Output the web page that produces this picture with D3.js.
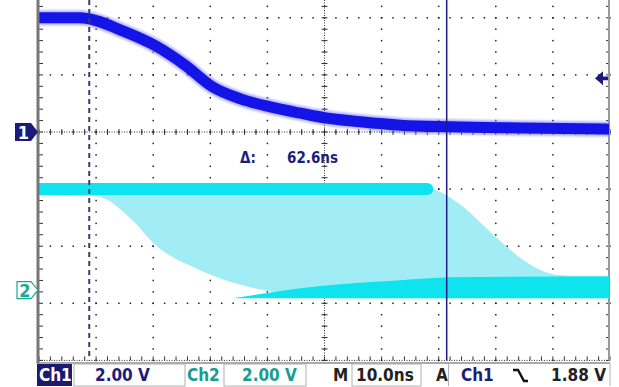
<!DOCTYPE html>
<html>
<head>
<meta charset="utf-8">
<script src="https://cdn.jsdelivr.net/npm/d3@7"></script>
<style>
  html, body { margin: 0; padding: 0; background: #fff; }
  svg { display: block; }
  text { font-family: "DejaVu Sans Condensed", "DejaVu Sans", sans-serif; font-weight: bold; }
</style>
</head>
<body>
<div id="app"></div>
<script>
// ---------- Data ----------

// Ch1 (blue) falling edge, time in ns, value in volts
const ch1Time = [0, 7.2, 10, 14.2, 20.4, 25.6, 30.4, 35.3, 40.5, 45.8, 50, 56.3, 63.3, 72.1, 84.4, 100];
const ch1Volts = [4.0, 4.0, 3.9, 3.58, 3.02, 2.34, 1.58, 1.16, 0.88, 0.66, 0.5, 0.36, 0.24, 0.18, 0.14, 0.1];

// Ch2 (cyan) persistence: high level band, earliest edge and latest edge envelopes
const ch2HighTime = [0, 68];
const ch2HighVolts = [3.54, 3.54];

const ch2EarlyTime = [0, 10, 16, 20.4, 28.2, 37, 45.8, 52, 100];
const ch2EarlyVolts = [3.33, 3.29, 2.52, 1.58, 0.7, 0.1, -0.18, -0.28, -0.28];

const ch2LateTime = [0, 64, 68, 70.4, 73.9, 79.1, 84.4, 87.9, 91.4, 100];
const ch2LateVolts = [3.75, 3.74, 3.62, 3.43, 2.98, 2.03, 1.12, 0.7, 0.52, 0.45];

const ch2LowTopTime = [34, 40, 45.8, 52.8, 63.3, 72.1, 100];
const ch2LowTopVolts = [-0.28, -0.1, 0.07, 0.21, 0.35, 0.45, 0.49];
const ch2LowBottomVolts = -0.28;

// readouts
const ch1Scale = "2.00 V";
const ch2Scale = "2.00 V";
const timeScale = "10.0ns";
const trigSource = "Ch1";
const trigLevel = 1.88;
const cursorA = 8.8;   // ns
const cursorB = 71.4;  // ns
const deltaLabel = "62.6ns";

// ---------- Layout ----------

const W = 619, H = 387;
const LEFT = 39, RIGHT = 610;
const CENTER_Y = 132, DIV = 57.1;
const VOLTS_PER_DIV = 2;
const CH1_POS = 0, CH2_POS = -2.77;

const svg = d3.select("#app").append("svg")
  .attr("width", W).attr("height", H);

const x = d3.scaleLinear().domain([0, 100]).range([LEFT, RIGHT]);
const yDiv = d3.scaleLinear().domain([0, 1]).range([CENTER_Y, CENTER_Y - DIV]);
const BOTTOM = yDiv(-4);

const y1 = v => yDiv(CH1_POS + v / VOLTS_PER_DIV);
const y2 = v => yDiv(CH2_POS + v / VOLTS_PER_DIV);

const zip = (ts, vs) => ts.map((t, i) => [t, vs[i]]);

// ---------- Graticule ----------

const grid = svg.append("g").attr("fill", "#222");
const minor = d3.range(-40, 41).map(d => d / 5);   // minor steps in divisions
const xMinor = d3.range(0, 51).map(d => d / 5);

// vertical grid lines (dotted)
for (let k = 1; k < 10; k++) {
  const gx = LEFT + k * (RIGHT - LEFT) / 10;
  minor.forEach(m => {
    const gy = yDiv(m);
    if (gy < 0 || gy > BOTTOM) return;
    grid.append("rect").attr("x", gx - 0.75).attr("y", gy - 0.75).attr("width", 1.5).attr("height", 1.5);
  });
}
// horizontal grid lines (dotted)
for (let j = -3; j <= 3; j++) {
  const gy = yDiv(j);
  if (gy < 0) continue;
  xMinor.forEach(m => {
    const gx = LEFT + m * (RIGHT - LEFT) / 10;
    grid.append("rect").attr("x", gx - 0.75).attr("y", gy - 0.75).attr("width", 1.5).attr("height", 1.5);
  });
}

// center lines with minor ticks
const cx = LEFT + 5 * (RIGHT - LEFT) / 10;
svg.append("line").attr("x1", LEFT).attr("x2", RIGHT).attr("y1", CENTER_Y).attr("y2", CENTER_Y)
  .attr("stroke", "#333").attr("stroke-width", 1).attr("stroke-dasharray", "1 1.5");
svg.append("line").attr("x1", cx).attr("x2", cx).attr("y1", 0).attr("y2", BOTTOM)
  .attr("stroke", "#333").attr("stroke-width", 1).attr("stroke-dasharray", "1 1.5");
xMinor.forEach(m => {
  const gx = LEFT + m * (RIGHT - LEFT) / 10;
  svg.append("line").attr("x1", gx).attr("x2", gx).attr("y1", CENTER_Y - 3).attr("y2", CENTER_Y + 3)
    .attr("stroke", "#333").attr("stroke-width", 1);
  svg.append("line").attr("x1", gx).attr("x2", gx).attr("y1", BOTTOM - 4).attr("y2", BOTTOM)
    .attr("stroke", "#333").attr("stroke-width", 1);
});
minor.forEach(m => {
  const gy = yDiv(m);
  if (gy < 0 || gy > BOTTOM) return;
  svg.append("line").attr("x1", cx - 3).attr("x2", cx + 3).attr("y1", gy).attr("y2", gy)
    .attr("stroke", "#333").attr("stroke-width", 1);
  svg.append("line").attr("x1", LEFT).attr("x2", LEFT + 4).attr("y1", gy).attr("y2", gy)
    .attr("stroke", "#333").attr("stroke-width", 1);
  svg.append("line").attr("x1", RIGHT - 4).attr("x2", RIGHT).attr("y1", gy).attr("y2", gy)
    .attr("stroke", "#333").attr("stroke-width", 1);
});

// frame edges
svg.append("line").attr("x1", LEFT).attr("x2", RIGHT).attr("y1", BOTTOM).attr("y2", BOTTOM)
  .attr("stroke", "#333").attr("stroke-width", 1).attr("stroke-dasharray", "1 1.5");
svg.append("line").attr("x1", RIGHT - 1).attr("x2", RIGHT - 1).attr("y1", 0).attr("y2", BOTTOM)
  .attr("stroke", "#999").attr("stroke-width", 2);
svg.append("line").attr("x1", 37).attr("x2", RIGHT).attr("y1", BOTTOM + 2.5).attr("y2", BOTTOM + 2.5)
  .attr("stroke", "#aaa").attr("stroke-width", 2);

// ---------- Traces ----------

const defs = svg.append("defs");
defs.append("filter").attr("id", "soft").append("feGaussianBlur").attr("stdDeviation", 1.2);
defs.append("clipPath").attr("id", "plot").append("rect")
  .attr("x", LEFT).attr("y", 0).attr("width", RIGHT - LEFT - 1).attr("height", BOTTOM);

const traces = svg.append("g").attr("clip-path", "url(#plot)");

const line1 = d3.line().x(d => x(d[0])).y(d => y1(d[1])).curve(d3.curveMonotoneX);
const line2 = d3.line().x(d => x(d[0])).y(d => y2(d[1])).curve(d3.curveMonotoneX);
const poly2 = d3.line().x(d => x(d[0])).y(d => y2(d[1])).curve(d3.curveLinear);

// Ch2 persistence fill between latest and earliest edges
const lateSmooth = line2(zip(ch2LateTime, ch2LateVolts));
const earlyPts = zip(ch2EarlyTime, ch2EarlyVolts).reverse();
const fillPath = lateSmooth + "L" + line2(earlyPts).slice(1) + "Z";
traces.append("path").attr("d", fillPath).attr("fill", "#a2edf5");

// low band
const lowTop = zip(ch2LowTopTime, ch2LowTopVolts);
const lowBottom = ch2LowTopTime.map(t => [t, ch2LowBottomVolts]).reverse();
traces.append("path").attr("d", line2(lowTop) + "L" + poly2(lowBottom).slice(1) + "Z")
  .attr("fill", "#0ee3ee");

// high band
traces.append("path").attr("d", line2(zip(ch2HighTime, ch2HighVolts)))
  .attr("fill", "none").attr("stroke", "#8ff0f6").attr("stroke-width", 15).attr("filter", "url(#soft)");
traces.append("path").attr("d", line2(zip(ch2HighTime, ch2HighVolts)))
  .attr("fill", "none").attr("stroke", "#0ee3ee").attr("stroke-width", 12).attr("stroke-linecap", "round");

// Ch1 trace
const ch1 = zip(ch1Time, ch1Volts);
traces.append("path").attr("d", line1(ch1))
  .attr("fill", "none").attr("stroke", "#8080ff").attr("stroke-width", 15)
  .attr("opacity", 0.6).attr("filter", "url(#soft)");
traces.append("path").attr("d", line1(ch1))
  .attr("fill", "none").attr("stroke", "#1414e6").attr("stroke-width", 11);

// left frame edge on top of traces
svg.append("line").attr("x1", LEFT - 1).attr("x2", LEFT - 1).attr("y1", 0).attr("y2", BOTTOM + 3)
  .attr("stroke", "#777").attr("stroke-width", 3);

// ---------- Cursors ----------

svg.append("line").attr("x1", x(cursorA)).attr("x2", x(cursorA)).attr("y1", 0).attr("y2", BOTTOM)
  .attr("stroke", "#3c3c70").attr("stroke-width", 2).attr("stroke-dasharray", "5 4");
svg.append("line").attr("x1", x(cursorB)).attr("x2", x(cursorB)).attr("y1", 0).attr("y2", BOTTOM)
  .attr("stroke", "#1c1c86").attr("stroke-width", 1.5);

svg.append("text").attr("x", 240).attr("y", 163).attr("font-size", 15).attr("fill", "#1e1e78")
  .text("Δ:");
svg.append("text").attr("x", 287).attr("y", 163).attr("font-size", 15).attr("fill", "#1e1e78")
  .text(deltaLabel);

// ---------- Markers ----------

// Ch1 ground marker
const m1y = y1(0);
svg.append("path")
  .attr("d", `M15,${m1y - 9}H31L38,${m1y}L31,${m1y + 9}H15Z`)
  .attr("fill", "#1a1a80");
svg.append("text").attr("x", 23.5).attr("y", m1y + 6.5).attr("text-anchor", "middle")
  .attr("font-size", 18).attr("fill", "#fff").text("1");

// Ch2 ground marker
const m2y = y2(0);
svg.append("path")
  .attr("d", `M17,${m2y - 8.5}H31L38,${m2y}L31,${m2y + 8.5}H17Z`)
  .attr("fill", "#fff").attr("stroke", "#1aa898").attr("stroke-width", 1.2);
svg.append("text").attr("x", 25).attr("y", m2y + 6.5).attr("text-anchor", "middle")
  .attr("font-size", 18).attr("fill", "#1aa898").text("2");

// trigger level arrow
const ty = y1(trigLevel);
svg.append("path").attr("d", `M595,${ty}L603,${ty - 7}V${ty - 1.8}H608V${ty + 1.8}H603V${ty + 7}Z`)
  .attr("fill", "#1a1a80");

// ---------- Status bar ----------

const bar = svg.append("g");
const TY = 381;
const boxStroke = "#b0b0b0";

bar.append("rect").attr("x", 37).attr("y", 364).attr("width", 35).attr("height", 22).attr("fill", "#1a1a72");
bar.append("text").attr("x", 39).attr("y", TY).attr("font-size", 17).attr("fill", "#fff").text("Ch1");

bar.append("rect").attr("x", 74).attr("y", 364).attr("width", 111).attr("height", 22)
  .attr("fill", "none").attr("stroke", boxStroke);
bar.append("text").attr("x", 95).attr("y", TY).attr("font-size", 17).attr("fill", "#1e1e78").text(ch1Scale);

bar.append("text").attr("x", 187).attr("y", TY).attr("font-size", 17).attr("fill", "#1a9d90").text("Ch2");
bar.append("rect").attr("x", 224).attr("y", 364).attr("width", 82).attr("height", 22)
  .attr("fill", "none").attr("stroke", boxStroke);
bar.append("text").attr("x", 242).attr("y", TY).attr("font-size", 17).attr("fill", "#1a9d90").text(ch2Scale);

bar.append("text").attr("x", 333).attr("y", TY).attr("font-size", 17).attr("fill", "#222").text("M");
bar.append("rect").attr("x", 352).attr("y", 364).attr("width", 69).attr("height", 22)
  .attr("fill", "none").attr("stroke", boxStroke);
bar.append("text").attr("x", 356).attr("y", TY).attr("font-size", 17).attr("fill", "#222").text(timeScale);

bar.append("text").attr("x", 436).attr("y", TY).attr("font-size", 17).attr("fill", "#222").text("A");
bar.append("line").attr("x1", 448.5).attr("x2", 448.5).attr("y1", 364).attr("y2", 386).attr("stroke", boxStroke);
bar.append("text").attr("x", 461).attr("y", TY).attr("font-size", 17).attr("fill", "#1e1e78").text(trigSource);

// falling edge symbol
bar.append("path").attr("d", "M513,370H518L524,381H528")
  .attr("fill", "none").attr("stroke", "#111").attr("stroke-width", 2.4);

bar.append("text").attr("x", 606).attr("y", TY).attr("text-anchor", "end").attr("font-size", 17)
  .attr("fill", "#222").text(trigLevel.toFixed(2) + " V");
bar.append("line").attr("x1", 610).attr("x2", 610).attr("y1", 364).attr("y2", 386).attr("stroke", boxStroke);
</script>
</body>
</html>
